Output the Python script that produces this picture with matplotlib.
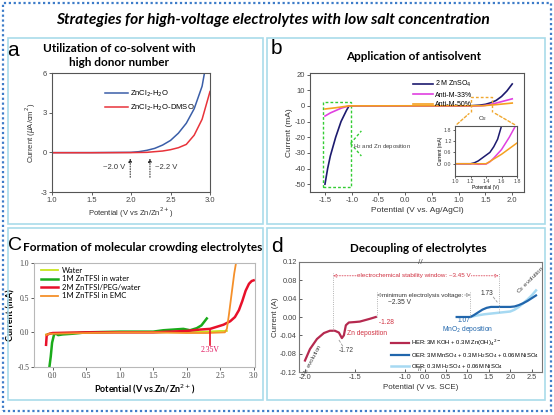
import numpy as np
import matplotlib
matplotlib.use("Agg")
import matplotlib.pyplot as plt
from matplotlib.patches import Rectangle

plt.rcParams['axes.unicode_minus'] = False
plt.rcParams['font.family'] = ['Liberation Sans', 'DejaVu Sans']

# ---------------- data ----------------
# panel a
a_x_blue = [1.0, 1.5, 2.0, 2.1, 2.2, 2.3, 2.4, 2.5, 2.6, 2.7, 2.8, 2.9, 2.93]
a_y_blue = [-0.02, -0.02, 0.0, 0.05, 0.15, 0.3, 0.55, 0.9, 1.45, 2.2, 3.3, 5.0, 6.0]
a_x_red = [1.0, 1.5, 2.0, 2.2, 2.4, 2.5, 2.6, 2.7, 2.8, 2.9, 3.0]
a_y_red = [-0.03, -0.03, -0.02, 0.0, 0.1, 0.2, 0.35, 0.6, 1.3, 2.5, 4.6]
a_labels = ['ZnCl$_2$-H$_2$O', 'ZnCl$_2$-H$_2$O-DMSO']

# panel b (main)
b_x_navy = [-1.5, -1.45, -1.4, -1.3, -1.2, -1.1, -1.05, 1.2, 1.4, 1.5, 1.6, 1.7, 1.8, 1.9, 2.0]
b_y_navy = [-50, -40, -32, -20, -10, -3, 0, 0, 0.5, 1.0, 2.0, 3.5, 6.0, 9.5, 14.0]
b_x_mag = [-1.5, -1.4, -1.3, -1.2, -1.05, 1.4, 1.5, 1.6, 1.7, 1.8, 1.9, 2.0]
b_y_mag = [-6.5, -4.5, -3.0, -1.5, 0, 0, 0.3, 1.0, 1.8, 2.7, 3.6, 4.5]
b_x_org = [-1.5, -1.3, -1.05, 1.45, 1.7, 2.0]
b_y_org = [-2.0, -1.2, 0, 0.1, 0.8, 1.8]
b_labels = ['2 M ZnSO$_4$', 'Anti-M-33%', 'Anti-M-50%']
# panel b (inset)
bi_x_navy = [1.0, 1.2, 1.25, 1.3, 1.35, 1.4, 1.45, 1.5, 1.55, 1.6]
bi_y_navy = [0, 0.0, 0.05, 0.15, 0.3, 0.45, 0.6, 0.9, 1.3, 2.0]
bi_x_mag = [1.0, 1.2, 1.3, 1.4, 1.45, 1.5, 1.6, 1.7, 1.78]
bi_y_mag = [0, 0, -0.03, -0.02, 0.1, 0.3, 0.75, 1.4, 2.0]
bi_x_org = [1.0, 1.4, 1.45, 1.5, 1.6, 1.7, 1.8]
bi_y_org = [0, 0.0, 0.12, 0.25, 0.5, 0.8, 1.1]

# panel c
c_x_water = [-0.1, 0.0, 0.5, 1.0, 1.5, 2.0, 2.3, 2.5, 2.6]
c_y_water = [-0.03, -0.01, 0.0, 0.0, 0.0, 0.0, 0.01, 0.02, 0.02]
c_x_green = [-0.05, -0.03, -0.01, 0.02, 0.05, 0.08, 0.15, 0.3, 0.5, 1.0, 1.5, 1.65, 1.8, 1.95, 2.05, 2.15, 2.22, 2.3]
c_y_green = [-0.5, -0.35, -0.15, -0.03, -0.02, -0.04, -0.03, -0.02, 0.0, 0.01, 0.01, 0.03, 0.04, 0.05, 0.03, 0.06, 0.1, 0.2]
c_x_red = [-0.1, -0.09, -0.05, 0.0, 0.5, 1.0, 1.5, 2.0, 2.2, 2.35, 2.45, 2.55, 2.65, 2.72, 2.78, 2.83, 2.88, 2.93, 2.97, 3.0]
c_y_red = [-0.18, -0.04, -0.02, -0.01, 0.0, 0.0, 0.0, 0.02, 0.04, 0.05, 0.08, 0.11, 0.16, 0.22, 0.32, 0.45, 0.6, 0.7, 0.74, 0.75]
c_x_orange = [-0.1, -0.05, 0.0, 0.5, 1.0, 1.5, 2.0, 2.3, 2.57, 2.6, 2.63, 2.67, 2.71, 2.74]
c_y_orange = [-0.04, -0.02, -0.02, -0.01, 0.0, 0.0, -0.01, -0.01, 0.0, 0.05, 0.25, 0.55, 0.85, 1.02]
c_labels = ['Water', '1M ZnTFSI in water', '2M ZnTFSI/PEG/water', '1M ZnTFSI in EMC']

# panel d
d_x_her = [-2.0, -1.95, -1.88, -1.81, -1.75, -1.7, -1.66, -1.63, -1.61, -1.59, -1.56, -1.5, -1.45, -1.4, -1.35, -1.29]
d_y_her = [-0.095, -0.07, -0.048, -0.035, -0.03, -0.03, -0.034, -0.046, -0.04, -0.018, -0.012, -0.011, -0.01, -0.007, -0.004, 0.0]
d_x_oer = [0.75, 0.9, 1.07, 1.15, 1.25, 1.35, 1.45, 1.55, 1.7, 1.85, 2.0, 2.1, 2.2, 2.3, 2.4, 2.5, 2.6]
d_y_oer = [0, 0, 0, 0.004, 0.01, 0.016, 0.02, 0.022, 0.022, 0.022, 0.022, 0.023, 0.026, 0.03, 0.035, 0.041, 0.047]
d_x_oer2 = [1.07, 1.2, 1.4, 1.6, 1.8, 2.0, 2.1, 2.2, 2.3, 2.4, 2.5, 2.6]
d_y_oer2 = [0.0, 0.003, 0.006, 0.008, 0.01, 0.012, 0.016, 0.022, 0.03, 0.038, 0.047, 0.058]
d_labels = ['HER: 3M KOH + 0.3M Zn(OH)$_4$$^{2-}$',
            'OER: 3M MnSO$_4$ + 0.3M H$_2$SO$_4$ + 0.06M NiSO$_4$',
            'OER: 0.3M H$_2$SO$_4$ + 0.06M NiSO$_4$']
d_xticks = [-2.0, -1.5, -1.0, 0.0, 0.5, 1.0, 1.5, 2.0, 2.5]

# ---------------- layout helpers ----------------
W, H = 554, 415
fig = plt.figure(figsize=(W / 100, H / 100), dpi=100)


def rect(l, t, r, b):
    return [l / W, 1 - b / H, (r - l) / W, (b - t) / H]


def ftext(x, y, s, **kw):
    fig.text(x / W, 1 - y / H, s, **kw)


def fbox(l, t, r, b, **kw):
    fig.patches.append(Rectangle((l / W, 1 - b / H), (r - l) / W, (b - t) / H,
                                 transform=fig.transFigure, fill=False, **kw))


fbox(3, 3, 551, 411, edgecolor='#3d7cc9', lw=1.6, ls=(0, (1, 1.2)))
boxc = '#a9dcea'
fbox(8, 38, 263, 224, edgecolor=boxc, lw=1.2)
fbox(267, 38, 545, 224, edgecolor=boxc, lw=1.2)
fbox(8, 228, 263, 400, edgecolor=boxc, lw=1.2)
fbox(267, 228, 545, 400, edgecolor=boxc, lw=1.2)

ftext(273, 20, 'Strategies for high-voltage electrolytes with low salt concentration',
      ha='center', va='center', fontsize=11.2, fontweight='bold', fontstyle='italic',
      family=['Lato', 'DejaVu Sans'])

tfam = ['Lato', 'DejaVu Sans']
ftext(13, 51, 'a', ha='center', va='center', fontsize=15)
ftext(276, 49, 'b', ha='center', va='center', fontsize=15)
ftext(15, 245, 'C', ha='center', va='center', fontsize=14)
ftext(277, 246, 'd', ha='center', va='center', fontsize=15)
ftext(119, 48, 'Utilization of co-solvent with', ha='center', va='center', fontsize=8.5, fontweight='bold', family=tfam)
ftext(119, 63, 'high donor number', ha='center', va='center', fontsize=8.5, fontweight='bold', family=tfam)
ftext(414, 56, 'Application of antisolvent', ha='center', va='center', fontsize=8.5, fontweight='bold', family=tfam)
ftext(143, 247, 'Formation of molecular crowding electrolytes', ha='center', va='center', fontsize=8.5, fontweight='bold', family=tfam)
ftext(418, 248, 'Decoupling of electrolytes', ha='center', va='center', fontsize=8.4, fontweight='bold', family=tfam)

spc = '#555555'


def style(ax, color=spc, fs=5.5, direction='out'):
    for s in ax.spines.values():
        s.set_color(color)
        s.set_linewidth(0.8)
    ax.tick_params(labelsize=fs, colors='#444444', length=2, width=0.6, direction=direction, pad=1.5)


# ---------------- panel a ----------------
axa = fig.add_axes(rect(52, 73, 210, 192))
axa.plot(a_x_blue, a_y_blue, color='#3a5ea8', lw=1.1, label=a_labels[0])
axa.plot(a_x_red, a_y_red, color='#e8333a', lw=1.1, label=a_labels[1])
axa.set_xlim(1.0, 3.0)
axa.set_ylim(-3, 6)
axa.set_xticks([1.0, 1.5, 2.0, 2.5, 3.0])
axa.set_yticks([-3, 0, 3, 6])
style(axa)
axa.set_xlabel('Potential (V vs Zn/Zn$^{2+}$)', fontsize=5.5, labelpad=1, color='#333333')
axa.set_ylabel('Current ($\\mu$A/cm$^2$)', fontsize=5.5, labelpad=2, color='#333333')
axa.legend(loc='upper left', bbox_to_anchor=(0.29, 0.93), fontsize=5.5, frameon=False,
           handlelength=3, labelspacing=0.5, handletextpad=0.3)
for xv, lab, side in [(1.99, '~2.0 V', 'left'), (2.24, '~2.2 V', 'right')]:
    axa.annotate('', xy=(xv, -0.25), xytext=(xv, -2.1),
                 arrowprops=dict(arrowstyle='-|>', lw=0.7, ls=':', color='#222222', mutation_scale=5))
    if side == 'left':
        axa.text(xv - 0.06, -1.15, lab, ha='right', va='center', fontsize=5.5, color='#333333')
    else:
        axa.text(xv + 0.06, -1.15, lab, ha='left', va='center', fontsize=5.5, color='#333333')

# ---------------- panel b ----------------
axb = fig.add_axes(rect(310, 73, 524, 192))
cn, cm, co = '#1c1a6e', '#e040e0', '#f5a020'
axb.plot(b_x_navy, b_y_navy, color=cn, lw=1.2, label=b_labels[0])
axb.plot(b_x_mag, b_y_mag, color=cm, lw=1.2, label=b_labels[1])
axb.plot(b_x_org, b_y_org, color=co, lw=1.2, label=b_labels[2])
axb.set_xlim(-1.78, 2.22)
axb.set_ylim(-55, 21)
axb.set_xticks([-1.5, -1.0, -0.5, 0.0, 0.5, 1.0, 1.5, 2.0])
axb.set_yticks([20, 10, 0, -10, -20, -30, -40, -50])
style(axb, fs=5.5)
axb.set_xlabel('Potential (V vs. Ag/AgCl)', fontsize=6, labelpad=2, color='#333333')
axb.set_ylabel('Current (mA)', fontsize=6, labelpad=1, color='#333333')
axb.legend(loc='upper left', bbox_to_anchor=(0.45, 1.0), fontsize=5, frameon=False,
           handlelength=3, labelspacing=0.35, handletextpad=0.3)
gc = '#33cc33'
axb.add_patch(Rectangle((-1.54, -52), 0.52, 54.5, fill=False, ec=gc, lw=1, ls=(0, (2, 1.5))))
axb.plot([-1.02, -0.82], [-24, -16], color=gc, lw=1, ls=(0, (2, 1.5)))
axb.plot([-1.02, -0.82], [-24, -32], color=gc, lw=1, ls=(0, (2, 1.5)))
axb.text(-0.97, -26, 'H$_2$ and Zn deposition', fontsize=4.3, color='#444444', va='center')
oc = '#f0a830'
axb.plot([1.23, 1.23, 1.63, 1.63], [-3.8, 5.5, 5.5, -3.8], color=oc, lw=1, ls=(0, (2, 1.5)))
axb.text(1.45, -8, 'O$_2$', fontsize=4.5, ha='center', va='center', color='#333333')
axb.annotate('', xy=(1.23, -3.8), xytext=((455 - 310) / 214, (192 - 126) / 119), textcoords='axes fraction',
             arrowprops=dict(arrowstyle='-', color=oc, lw=1, ls=(0, (2, 1.5))))
axb.annotate('', xy=(1.63, -3.8), xytext=((517 - 310) / 214, (192 - 126) / 119), textcoords='axes fraction',
             arrowprops=dict(arrowstyle='-', color=oc, lw=1, ls=(0, (2, 1.5))))

axi = fig.add_axes(rect(455, 126, 517, 176))
axi.plot(bi_x_navy, bi_y_navy, color=cn, lw=1.1)
axi.plot(bi_x_mag, bi_y_mag, color=cm, lw=1.1)
axi.plot(bi_x_org, bi_y_org, color=co, lw=1.1)
axi.set_xlim(1.0, 1.8)
axi.set_ylim(-0.65, 2.0)
axi.set_xticks([1.0, 1.2, 1.4, 1.6, 1.8])
axi.set_yticks([0.0, 0.6, 1.2, 1.8])
style(axi, fs=3.8)
axi.tick_params(length=1.5, pad=1)
axi.set_xlabel('Potential (V)', fontsize=3.5, labelpad=0.5)
axi.set_ylabel('Current (mA)', fontsize=3.5, labelpad=0.5)

# ---------------- panel c ----------------
axc = fig.add_axes(rect(34, 263, 255, 367))
serif = ['Liberation Serif', 'DejaVu Serif']
axc.plot(c_x_water, c_y_water, color='#c8e61e', lw=1.3, label=c_labels[0])
axc.plot(c_x_green, c_y_green, color='#1aab1a', lw=1.8, label=c_labels[1])
axc.plot(c_x_red, c_y_red, color='#e8102a', lw=1.8, label=c_labels[2])
axc.plot(c_x_orange, c_y_orange, color='#f5902a', lw=1.3, label=c_labels[3])
axc.set_xlim(-0.28, 3.02)
axc.set_ylim(-0.5, 1.0)
axc.set_xticks([0.0, 0.5, 1.0, 1.5, 2.0, 2.5, 3.0])
axc.set_yticks([-0.5, 0.0, 0.5, 1.0])
style(axc, color='#b8b8b8', fs=5.5)
for lab in axc.get_xticklabels() + axc.get_yticklabels():
    lab.set_family(serif)
axc.set_xlabel('Potential (V vs.Zn/Zn$^{2+}$)', fontsize=6.5, fontweight='bold', labelpad=2, family=tfam)
axc.set_ylabel('Current (mA)', fontsize=6.5, fontweight='bold', labelpad=1, family=tfam)
axc.legend(loc='upper left', bbox_to_anchor=(0.0, 1.03), frameon=False,
           handlelength=2.3, labelspacing=0.2, handletextpad=0.4, prop={'family': tfam, 'size': 5.5})
axc.plot([2.35, 2.35], [0.04, -0.18], color='#e8102a', lw=1.2)
axc.text(2.35, -0.25, '2.35V', color='#e0105a', fontsize=5.5, ha='center', va='center', family=serif)

# ---------------- panel d ----------------
BA, BB, EPS, K = -0.85, -0.09, 0.01, 0.43


def fwd(x):
    x = np.asarray(x, float)
    return np.where(x <= BA, x, np.where(x >= BB, BA + EPS + (x - BB) * K, BA + (x - BA) * EPS / (BB - BA)))


def inv(u):
    u = np.asarray(u, float)
    return np.where(u <= BA, u, np.where(u >= BA + EPS, BB + (u - BA - EPS) / K, BA + (u - BA) * (BB - BA) / EPS))


axd = fig.add_axes(rect(299, 262, 542, 372))
axd.set_xscale('function', functions=(fwd, inv))
ch, cb, cl = '#b5294f', '#2166ac', '#a6d9f2'
axd.plot(d_x_oer2, d_y_oer2, color=cl, lw=1.8, label=d_labels[2])
axd.plot(d_x_her, d_y_her, color=ch, lw=1.6, label=d_labels[0])
axd.plot(d_x_oer, d_y_oer, color=cb, lw=1.6, label=d_labels[1])
axd.set_xlim(-2.06, 2.74)
axd.set_ylim(-0.12, 0.12)
axd.set_xticks(d_xticks)
axd.set_xticklabels([f'{v:.1f}' for v in d_xticks])
axd.set_yticks([-0.12, -0.08, -0.04, 0.0, 0.04, 0.08, 0.12])
axd.set_yticklabels([f'{v:.2f}' for v in [-0.12, -0.08, -0.04, 0.0, 0.04, 0.08, 0.12]])
axd.xaxis.set_minor_locator(matplotlib.ticker.NullLocator())
style(axd, color='#777777', fs=5.3, direction='in')
axd.set_xlabel('Potential (V vs. SCE)', fontsize=5.8, labelpad=2, color='#333333')
axd.set_ylabel('Current (A)', fontsize=5.8, labelpad=1, color='#333333')
h, l = axd.get_legend_handles_labels()
axd.legend([h[1], h[2], h[0]], [l[1], l[2], l[0]], loc='lower right', bbox_to_anchor=(1.01, -0.04),
           fontsize=4.2, frameon=False, handlelength=3, labelspacing=0.45, handletextpad=0.4)
axd.text(-0.5, 1.0, '//', transform=axd.get_xaxis_transform(), ha='center', va='center',
         fontsize=6, color='#555555')
axd.text(-0.5, 0.025, '//', transform=axd.get_xaxis_transform(), ha='center', va='center',
         fontsize=5, color='#555555')
gl = '#9a9a9a'
axd.plot([-1.72, -1.72], [-0.03, 0.095], color=gl, lw=0.6, ls=':')
axd.plot([-1.28, -1.28], [0.0, 0.055], color=gl, lw=0.6, ls=':')
axd.plot([1.07, 1.07], [0.0, 0.055], color=gl, lw=0.6, ls=':')
axd.plot([1.73, 1.73], [0.012, 0.095], color=gl, lw=0.6, ls=':')
axd.annotate('', xy=(-1.72, 0.09), xytext=(1.73, 0.09),
             arrowprops=dict(arrowstyle='<->', ls=':', color='#e06070', lw=0.7, mutation_scale=5, shrinkA=0, shrinkB=0))
axd.text(0.473, 0.875, 'electrochemical stability window: ~3.45 V', transform=axd.transAxes,
         ha='center', va='center', fontsize=4.5, color='#d03040',
         bbox=dict(fc='white', ec='none', pad=0.3))
axd.annotate('', xy=(-1.28, 0.048), xytext=(1.07, 0.048),
             arrowprops=dict(arrowstyle='<->', ls=':', color='#888888', lw=0.7, mutation_scale=5, shrinkA=0, shrinkB=0))
axd.text(0.51, 0.70, 'minimum electrolysis voltage:', transform=axd.transAxes,
         ha='center', va='center', fontsize=4.5, color='#333333', bbox=dict(fc='white', ec='none', pad=0.3))
axd.text(0.415, 0.63, '~2.35 V', transform=axd.transAxes, ha='center', va='center', fontsize=4.8, color='#333333')
axd.text(-1.28, -0.012, ' -1.28', ha='left', va='center', fontsize=4.8, color='#d03040')
axd.text(-1.58, -0.036, 'Zn deposition', ha='left', va='center', fontsize=4.8, color='#d03040')
axd.plot([-1.66, -1.62], [-0.05, -0.064], color=gl, lw=0.6, ls='--')
axd.text(-1.66, -0.074, '-1.72', ha='left', va='center', fontsize=4.8, color='#444444')
axd.text(-1.92, -0.093, 'H$_2$ evolution', ha='center', va='center', fontsize=4.5, color='#444444', rotation=62)
axd.text(0.92, -0.007, '1.07', ha='center', va='center', fontsize=4.8, color='#2166ac')
axd.text(1.0, -0.027, 'MnO$_2$ deposition', ha='center', va='center', fontsize=4.8, color='#2166ac')
axd.text(1.45, 0.052, '1.73', ha='center', va='center', fontsize=4.8, color='#333333')
axd.plot([1.6, 1.7], [0.044, 0.032], color=gl, lw=0.6, ls='--')
axd.text(2.48, 0.08, 'O$_2$ evolution', ha='center', va='center', fontsize=4.5, color='#444444', rotation=45)

fig.savefig('out.png', dpi=100)
